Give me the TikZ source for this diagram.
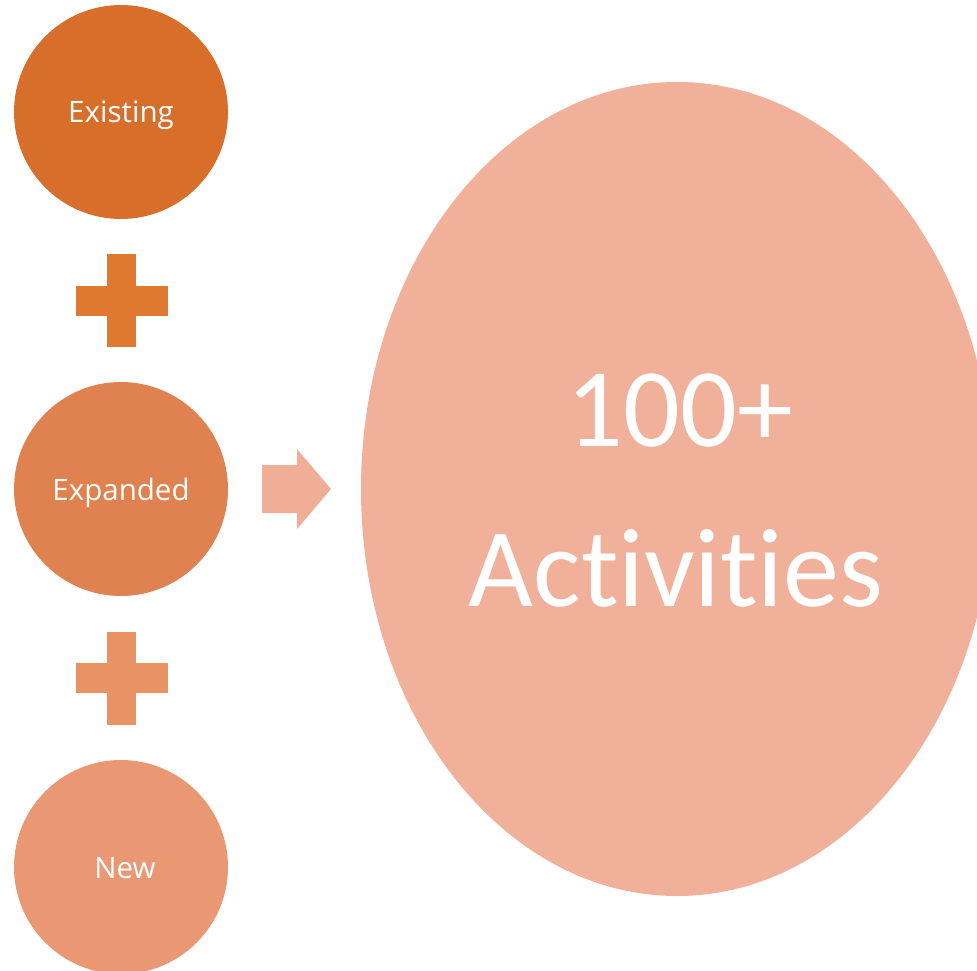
\documentclass[tikz,border=0pt]{standalone}
\usepackage{fontspec}
\setmainfont{Carlito}[Ligatures=NoCommon]
\newfontfamily\labelfont{Open Sans}
\definecolor{cExist}{RGB}{215,110,42}
\definecolor{cPlusA}{RGB}{224,121,48}
\definecolor{cExpand}{RGB}{224,130,80}
\definecolor{cPlusB}{RGB}{233,146,99}
\definecolor{cNew}{RGB}{233,152,115}
\definecolor{cArrow}{RGB}{241,174,150}
\definecolor{cBig}{RGB}{240,176,154}
\begin{document}
\begin{tikzpicture}[x=1pt,y=-1pt,
  bubble/.style={circle,minimum size=214pt,inner sep=0pt,text=white},
  lbl/.style={font=\labelfont\fontsize{29.5}{32}\selectfont,text=white,anchor=base,inner sep=0pt},
  bigtxt/.style={font=\fontsize{112}{120}\selectfont,text=white,anchor=base,inner sep=0pt},
  plussign/.pic={\fill (-14.5,-46.5) rectangle (14.5,46.5); \fill (-46,-15) rectangle (46,15);}
]
\useasboundingbox (0,0) rectangle (977,971);
% left circles
\node[bubble,fill=cExist] (existing) at (121,112) {};
\node[bubble,fill=cExpand] (expanded) at (121,489) {};
\node[bubble,fill=cNew] (new) at (121,867) {};
\node[lbl] (tExisting) at (121,123) {Existing};
\node[lbl] (tExpanded) at (121,500) {Expanded};
\node[lbl] (tNew) at (125,878) {New};
% plus signs
\pic[fill=cPlusA] at (121.5,300.5) {plussign};
\pic[fill=cPlusB] at (121.5,678) {plussign};
% arrow
\fill[cArrow] (262,465) -- (297,465) -- (297,449) -- (331,489) -- (297,529) -- (297,513) -- (262,513) -- cycle;
% big ellipse
\fill[cBig] (677,489) ellipse [x radius=316, y radius=407];
\node[bigtxt] (t100) at (680,446) {100+};
\node[bigtxt] (tAct) at (676,606) {Activities};
\end{tikzpicture}
\end{document}
